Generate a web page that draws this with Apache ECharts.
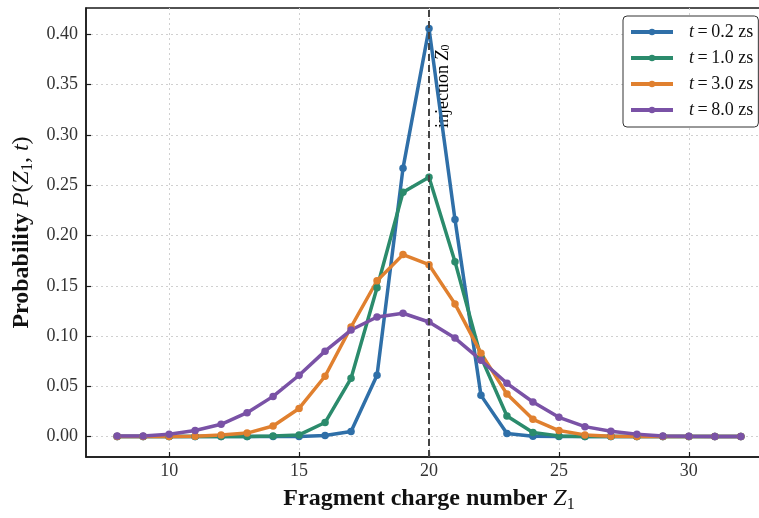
<!DOCTYPE html>
<html>
<head>
<meta charset="utf-8">
<script src="https://cdn.jsdelivr.net/npm/echarts@6/dist/echarts.min.js"></script>
<style>
  html, body { margin: 0; padding: 0; background: #fff; }
  #chart { width: 759px; height: 518px; }
</style>
</head>
<body>
<div id="chart"></div>
<script>
// fragment charge number Z1
const zValues = [8, 9, 10, 11, 12, 13, 14, 15, 16, 17, 18, 19, 20, 21, 22, 23, 24, 25, 26, 27, 28, 29, 30, 31, 32]

// P(Z1, t) for each time
const pT02 = [0, 0, 0, 0, 0, 0, 0, 0, 0.001, 0.005, 0.061, 0.267, 0.406, 0.216, 0.041, 0.003, 0.0003, 0, 0, 0, 0, 0, 0, 0, 0]
const pT10 = [0, 0, 0, 0, 0, 0, 0.0005, 0.0017, 0.014, 0.058, 0.148, 0.243, 0.258, 0.174, 0.079, 0.0205, 0.004, 0.0007, 0, 0, 0, 0, 0, 0, 0]
const pT30 = [0, 0, 0.0001, 0.0004, 0.0015, 0.0035, 0.0105, 0.028, 0.060, 0.109, 0.155, 0.181, 0.171, 0.132, 0.083, 0.0423, 0.0172, 0.006, 0.0017, 0.0004, 0.0001, 0, 0, 0, 0]
const pT80 = [0.0005, 0.0007, 0.0023, 0.006, 0.0122, 0.0238, 0.040, 0.061, 0.085, 0.106, 0.119, 0.1227, 0.114, 0.098, 0.076, 0.053, 0.0344, 0.0192, 0.0099, 0.0053, 0.0023, 0.0007, 0.0003, 0.0001, 0.0001]

const seriesNames = ['t=0.2 zs', 't=1.0 zs', 't=3.0 zs', 't=8.0 zs']
const legendTimes = ['0.2', '1.0', '3.0', '8.0']
const colors = ['#2f6fa8', '#2b8b6c', '#e0802f', '#7a52a6']

const xTicks = [10, 15, 20, 25, 30]
const yTicks = [0, 0.05, 0.10, 0.15, 0.20, 0.25, 0.30, 0.35, 0.40]
const injectionZ = 20

const serif = 'Liberation Serif'
const dark = '#1a1a1a'
const thin = '\u2009'

const pairs = (ys) => zValues.map((z, i) => [z, ys[i]])

const chart = echarts.init(document.getElementById('chart'))

const lineSeries = (name, ys, color) => ({
  name: name,
  type: 'line',
  data: pairs(ys),
  symbol: 'circle',
  symbolSize: 7.5,
  showSymbol: true,
  color: color,
  lineStyle: { width: 3.5, color: color },
  itemStyle: { color: color },
  emphasis: { disabled: true },
})

const series = [
  lineSeries(seriesNames[0], pT02, colors[0]),
  lineSeries(seriesNames[1], pT10, colors[1]),
  lineSeries(seriesNames[2], pT30, colors[2]),
  lineSeries(seriesNames[3], pT80, colors[3]),
]
series[0].markLine = {
  silent: true,
  symbol: 'none',
  label: { show: false },
  lineStyle: { type: [7, 4], color: '#444', width: 2 },
  data: [{ xAxis: injectionZ }],
}

chart.setOption({
  animation: false,
  textStyle: { fontFamily: serif },
  grid: {
    left: 86, top: 8, width: 686, height: 449,
    outerBoundsMode: 'none',
    containLabel: false,
    show: true, borderColor: dark, borderWidth: 1.5,
  },
  legend: {
    orient: 'vertical',
    left: 623, top: 16,
    padding: [7, 5, 8, 6],
    itemWidth: 42, itemHeight: 8, itemGap: 8,
    borderColor: '#333', borderWidth: 1, borderRadius: 4,
    backgroundColor: '#fff',
    lineStyle: { width: 4 },
    data: seriesNames,
    formatter(name) {
      const i = seriesNames.indexOf(name)
      return '{i|t}{n|' + thin + '=' + thin + legendTimes[i] + ' zs}'
    },
    textStyle: {
      padding: [0, 0, 0, 11],
      rich: {
        i: { fontFamily: serif, fontStyle: 'italic', fontSize: 18, color: '#111', lineHeight: 18 },
        n: { fontFamily: serif, fontSize: 18, color: '#111', lineHeight: 18 },
      },
    },
  },
  xAxis: {
    type: 'value',
    min: 6.8, max: 33.2,
    name: '{b|Fragment charge number}  {i|Z}{s|1}',
    nameLocation: 'middle',
    nameGap: 28,
    nameTextStyle: {
      rich: {
        b: { fontFamily: serif, fontWeight: 'bold', fontSize: 24, color: '#111', lineHeight: 28 },
        i: { fontFamily: serif, fontStyle: 'italic', fontSize: 24, color: '#111', lineHeight: 28 },
        s: { fontFamily: serif, fontSize: 16, color: '#111', verticalAlign: 'bottom', lineHeight: 20 },
      },
    },
    axisLine: { show: true, onZero: false, lineStyle: { color: dark, width: 1.5 } },
    axisTick: { show: true, inside: true, length: 5, customValues: xTicks, lineStyle: { color: dark, width: 1.2 } },
    axisLabel: { customValues: xTicks, fontFamily: serif, fontSize: 18, color: '#333', margin: 5 },
    splitLine: { show: true, lineStyle: { color: '#d0d0d0', type: [2, 3], width: 1 } },
  },
  yAxis: {
    type: 'value',
    min: -0.0203, max: 0.4263,
    name: '{b|Probability}  {i|P}{n|(}{i|Z}{s|1}{n|, }{i|t}{n|)}',
    nameLocation: 'middle',
    nameGap: 50,
    nameTextStyle: {
      rich: {
        b: { fontFamily: serif, fontWeight: 'bold', fontSize: 24, color: '#111', lineHeight: 28 },
        i: { fontFamily: serif, fontStyle: 'italic', fontSize: 24, color: '#111', lineHeight: 28 },
        n: { fontFamily: serif, fontSize: 24, color: '#111', lineHeight: 28 },
        s: { fontFamily: serif, fontSize: 16, color: '#111', verticalAlign: 'bottom', lineHeight: 20 },
      },
    },
    axisLine: { show: true, onZero: false, lineStyle: { color: dark, width: 1.5 } },
    axisTick: { show: true, inside: true, length: 5, customValues: yTicks, lineStyle: { color: dark, width: 1.2 } },
    axisLabel: {
      customValues: yTicks,
      fontFamily: serif, fontSize: 18, color: '#333', margin: 8,
      formatter: (v) => v.toFixed(2),
    },
    splitLine: { show: true, lineStyle: { color: '#d0d0d0', type: [2, 3], width: 1 } },
  },
  series: series,
})

// rotated label next to the injection line
const anchor = chart.convertToPixel({ gridIndex: 0 }, [injectionZ + 0.2, 0.39])
chart.setOption({
  graphic: [{
    type: 'text',
    x: anchor[0], y: anchor[1],
    rotation: Math.PI / 2,
    silent: true,
    style: {
      text: '{n|injection }{i|Z}{s|0}',
      align: 'right',
      verticalAlign: 'top',
      rich: {
        n: { fontFamily: serif, fontSize: 18, color: '#666', lineHeight: 18 },
        i: { fontFamily: serif, fontStyle: 'italic', fontSize: 18, color: '#666', lineHeight: 18 },
        s: { fontFamily: serif, fontSize: 12, color: '#666', verticalAlign: 'bottom', lineHeight: 14 },
      },
    },
  }],
})
</script>
</body>
</html>
